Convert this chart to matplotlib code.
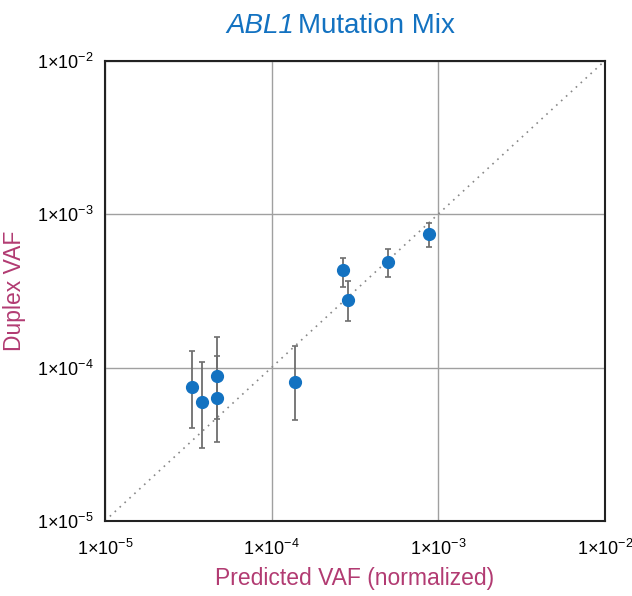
# ABL1 Mutation Mix - duplex VAF vs predicted VAF

import math
import matplotlib
matplotlib.use("Agg")
import matplotlib.pyplot as plt
from matplotlib.ticker import FixedLocator, FuncFormatter, NullLocator

plt.rcParams['font.family'] = ['Liberation Sans', 'DejaVu Sans']
plt.rcParams['mathtext.fontset'] = 'custom'
plt.rcParams['mathtext.rm'] = 'Liberation Sans'
plt.rcParams['mathtext.it'] = 'Liberation Sans:italic'

# datos
predicted = [3.31e-5, 3.80e-5, 4.68e-5, 4.68e-5, 1.38e-4, 2.69e-4, 2.86e-4, 5.01e-4, 8.83e-4]
duplex = [7.52e-5, 5.94e-5, 8.87e-5, 6.37e-5, 8.04e-5, 4.34e-4, 2.76e-4, 4.91e-4, 7.45e-4]
err_lo = [4.03e-5, 3.01e-5, 4.60e-5, 3.26e-5, 4.56e-5, 3.34e-4, 2.00e-4, 3.87e-4, 6.15e-4]
err_hi = [1.29e-4, 1.09e-4, 1.58e-4, 1.19e-4, 1.38e-4, 5.21e-4, 3.67e-4, 5.94e-4, 8.75e-4]
decades = [1e-5, 1e-4, 1e-3, 1e-2]

blue = "#1372c1"
label_color = "#b23b72"

fig = plt.figure(figsize=(6.32, 5.96), dpi=100)
ax = fig.add_axes([0.166, 0.126, 0.791, 0.772])

ax.plot(decades, decades, linestyle=(0, (1, 3)), color="#888888", linewidth=1.2, zorder=1)

yerr = [[d - lo for d, lo in zip(duplex, err_lo)],
        [hi - d for d, hi in zip(duplex, err_hi)]]
ax.errorbar(predicted, duplex, yerr=yerr, fmt="none", ecolor="#6e6e6e",
            elinewidth=1.3, capsize=2.5, capthick=1.2, zorder=2)
ax.plot(predicted, duplex, "o", color=blue, markersize=8.5, zorder=3)

ax.set_xscale("log")
ax.set_yscale("log")
ax.set_xlim(1e-5, 1e-2)
ax.set_ylim(1e-5, 1e-2)

fmt = FuncFormatter(lambda v, p: "1×10$^{\\mathregular{%d}}$" % round(math.log10(v)))
for axis in (ax.xaxis, ax.yaxis):
    axis.set_major_locator(FixedLocator(decades))
    axis.set_minor_locator(NullLocator())
    axis.set_major_formatter(fmt)

ax.grid(True, color="#a0a0a0", linewidth=1.0)
ax.set_axisbelow(True)
ax.tick_params(length=0, labelsize=13)
ax.tick_params(axis="x", pad=13)
ax.tick_params(axis="y", pad=8)
for s in ax.spines.values():
    s.set_linewidth(1.5)
    s.set_color("#222222")

ax.set_xlabel("Predicted VAF (normalized)", fontsize=16.5, color=label_color, labelpad=6)
ax.set_ylabel("Duplex VAF", fontsize=16.5, color=label_color, labelpad=8)

# titulo: ABL1 en cursiva
fig.text(0.465, 0.978, "ABL1", fontsize=20, color=blue, style="italic",
         ha="right", va="top")
fig.text(0.472, 0.978, "Mutation Mix", fontsize=20, color=blue,
         ha="left", va="top")

plt.savefig("out.png", dpi=100)
